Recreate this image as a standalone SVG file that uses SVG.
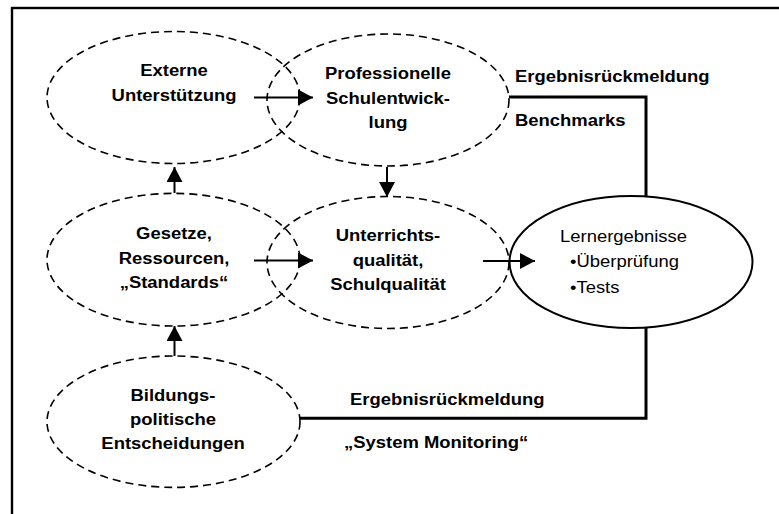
<svg xmlns="http://www.w3.org/2000/svg" width="779" height="514" viewBox="0 0 779 514">
  <style>
    .frame { fill: none; stroke: #000; stroke-width: 2.4; }
    .dash { fill: none; stroke: #000; stroke-width: 1.6; stroke-dasharray: 8 5; }
    .solid { fill: none; stroke: #000; stroke-width: 2; }
    .arrow { fill: none; stroke: #000; stroke-width: 2; marker-end: url(#head); }
    .link { fill: none; stroke: #000; stroke-width: 3; }
    text { font-family: "Liberation Sans", Arial, sans-serif; font-size: 17px; fill: #000; }
    .b { font-weight: bold; }
    .c { text-anchor: middle; }
  </style>
  <defs>
    <marker id="head" markerUnits="userSpaceOnUse" markerWidth="15" markerHeight="16" refX="15" refY="8" orient="auto">
      <path d="M0,0 L15,8 L0,16 Z" fill="#000"/>
    </marker>
  </defs>

  <rect width="779" height="514" fill="#fff"/>
  <rect class="frame" x="12" y="8" width="800" height="560"/>

  <g id="externe">
    <ellipse class="dash" cx="173.5" cy="97.5" rx="126.5" ry="66"/>
    <text class="b c" transform="translate(174,76) scale(1.085,1)">Externe</text>
    <text class="b c" transform="translate(174,101) scale(1.085,1)">Unterstützung</text>
  </g>

  <g id="professionelle">
    <ellipse class="dash" cx="388" cy="100" rx="121" ry="66"/>
    <text class="b c" transform="translate(388,79) scale(1.085,1)">Professionelle</text>
    <text class="b c" transform="translate(388,103.5) scale(1.085,1)">Schulentwick-</text>
    <text class="b c" transform="translate(388,128) scale(1.085,1)">lung</text>
  </g>

  <g id="gesetze">
    <ellipse class="dash" cx="173.5" cy="259.7" rx="126.5" ry="66.3"/>
    <text class="b c" transform="translate(174,239) scale(1.085,1)">Gesetze,</text>
    <text class="b c" transform="translate(174,263.5) scale(1.085,1)">Ressourcen,</text>
    <text class="b c" transform="translate(174,288) scale(1.085,1)">„Standards“</text>
  </g>

  <g id="unterricht">
    <ellipse class="dash" cx="388" cy="262.5" rx="121" ry="66"/>
    <text class="b c" transform="translate(388,241) scale(1.085,1)">Unterrichts-</text>
    <text class="b c" transform="translate(388,265.5) scale(1.085,1)">qualität,</text>
    <text class="b c" transform="translate(388,290) scale(1.085,1)">Schulqualität</text>
  </g>

  <g id="bildung">
    <ellipse class="dash" cx="173.5" cy="421.7" rx="126.5" ry="65.7"/>
    <text class="b c" transform="translate(173,401) scale(1.085,1)">Bildungs-</text>
    <text class="b c" transform="translate(173,425) scale(1.085,1)">politische</text>
    <text class="b c" transform="translate(173,449.3) scale(1.085,1)">Entscheidungen</text>
  </g>

  <g id="lernergebnisse">
    <ellipse class="solid" cx="631" cy="262" rx="121.5" ry="66"/>
    <text transform="translate(560,242) scale(1.085,1)">Lernergebnisse</text>
    <text transform="translate(570,267) scale(1.085,1)">•Überprüfung</text>
    <text transform="translate(570,293) scale(1.085,1)">•Tests</text>
  </g>

  <g id="connectors">
    <line class="arrow" x1="254" y1="97.5" x2="313" y2="97.5"/>
    <line class="arrow" x1="254" y1="260.5" x2="313" y2="260.5"/>
    <line class="arrow" x1="483" y1="261" x2="535" y2="261"/>
    <line class="arrow" x1="174.5" y1="193" x2="174.5" y2="167"/>
    <line class="arrow" x1="174.5" y1="356" x2="174.5" y2="326"/>
    <line class="arrow" x1="387" y1="167" x2="387" y2="197"/>
    <polyline class="link" points="509,97 646,97 646,196"/>
    <polyline class="link" points="300,418.3 646,418.3 646,328"/>
    <text class="b" transform="translate(515,82) scale(1.085,1)">Ergebnisrückmeldung</text>
    <text class="b" transform="translate(515,126) scale(1.085,1)">Benchmarks</text>
    <text class="b" transform="translate(350,405) scale(1.085,1)">Ergebnisrückmeldung</text>
    <text class="b" transform="translate(344,448) scale(1.085,1)">„System Monitoring“</text>
  </g>
</svg>
